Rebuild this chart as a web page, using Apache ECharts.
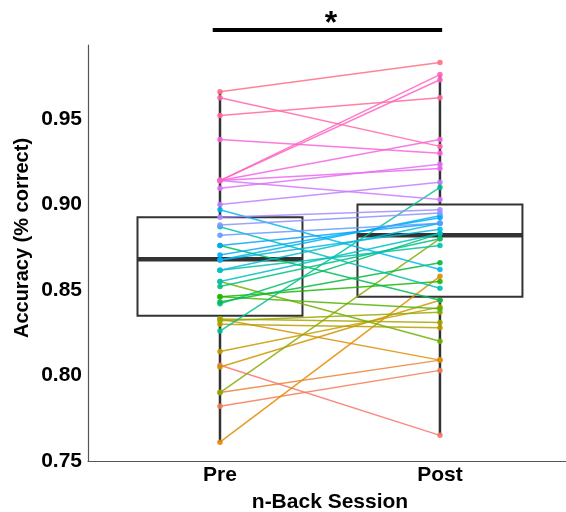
<!DOCTYPE html>
<html>
<head>
<meta charset="utf-8">
<script src="https://cdn.jsdelivr.net/npm/echarts@6/dist/echarts.min.js"></script>
<style>
  html, body { margin: 0; padding: 0; background: #fff; }
  #chart { width: 566px; height: 512px; }
</style>
</head>
<body>
<div id="chart"></div>
<script>
// sessions on the x axis (Pre = 1, Post = 2)
const sessions = ['Pre', 'Post'];
const yTicks = [0.75, 0.80, 0.85, 0.90, 0.95];

// one entry per participant, ordered by their mean accuracy (drives the colour)
const preAcc = [
  0.806, 0.782, 0.790, 0.761, 0.833, 0.805, 0.814, 0.830, 0.833, 0.832,
  0.790, 0.855, 0.846, 0.846, 0.843, 0.876, 0.842, 0.852, 0.826, 0.8615,
  0.887, 0.855, 0.8615, 0.8675, 0.897, 0.8675, 0.8705, 0.876, 0.882, 0.888,
  0.8925, 0.900, 0.914, 0.9095, 0.914, 0.914, 0.938, 0.914, 0.914, 0.9625,
  0.952, 0.966
];
const postAcc = [
  0.765, 0.803, 0.809, 0.858, 0.809, 0.844, 0.840, 0.828, 0.831, 0.837,
  0.880, 0.820, 0.839, 0.855, 0.866, 0.844, 0.883, 0.880, 0.910, 0.876,
  0.851, 0.883, 0.889, 0.8855, 0.862, 0.8935, 0.8923, 0.889, 0.889, 0.895,
  0.897, 0.913, 0.903, 0.9235, 0.921, 0.938, 0.930, 0.973, 0.976, 0.934,
  0.9625, 0.983
];

// boxplot stats: [lower whisker, Q1, median, Q3, upper whisker]
const boxPre = [0.761, 0.835, 0.868, 0.8925, 0.966];
const boxPost = [0.765, 0.846, 0.882, 0.900, 0.976];

// significance bracket
const sigLevel = 1.002;
const sigLabel = '*';

// ggplot2-like hue palette (hcl, c = 100, l = 65)
function hcl2hex(h, c, l) {
  const rad = h * Math.PI / 180;
  const u = c * Math.cos(rad), v = c * Math.sin(rad);
  const Xn = 95.047, Yn = 100, Zn = 108.883;
  const un = 4 * Xn / (Xn + 15 * Yn + 3 * Zn);
  const vn = 9 * Yn / (Xn + 15 * Yn + 3 * Zn);
  const Y = Yn * Math.pow((l + 16) / 116, 3);
  const up = u / (13 * l) + un, vp = v / (13 * l) + vn;
  const X = Y * 9 * up / (4 * vp);
  const Z = Y * (12 - 3 * up - 20 * vp) / (4 * vp);
  const x = X / 100, y = Y / 100, z = Z / 100;
  const lin = [
    3.2404542 * x - 1.5371385 * y - 0.4985314 * z,
    -0.9692660 * x + 1.8760108 * y + 0.0415560 * z,
    0.0556434 * x - 0.2040259 * y + 1.0572252 * z
  ];
  return '#' + lin.map(c0 => {
    let g = c0 <= 0.0031308 ? 12.92 * c0 : 1.055 * Math.pow(c0, 1 / 2.4) - 0.055;
    g = Math.max(0, Math.min(1, g));
    return Math.round(g * 255).toString(16).padStart(2, '0');
  }).join('');
}

const n = preAcc.length;
const colors = preAcc.map((_, i) => hcl2hex(15 + 360 * i / n, 100, 65));

const font = 'Liberation Sans, Arial, sans-serif';
const chart = echarts.init(document.getElementById('chart'));

const pairSeries = preAcc.map((p, i) => ({
  type: 'line',
  data: [[1, p], [2, postAcc[i]]],
  symbol: 'circle',
  symbolSize: 5.5,
  z: 3,
  silent: true,
  lineStyle: { color: colors[i], width: 1.5, opacity: 0.85 },
  itemStyle: { color: colors[i], opacity: 0.9 }
}));

chart.setOption({
  animation: false,
  backgroundColor: '#fff',
  grid: { left: 88, right: 0, top: 45, bottom: 51 },
  xAxis: {
    type: 'value',
    min: 0.4,
    max: 2.573,
    splitLine: { show: false },
    axisTick: { show: false },
    axisLine: { show: true, onZero: false, lineStyle: { color: '#555', width: 1.2 } },
    axisLabel: {
      customValues: [1, 2],
      formatter: v => sessions[Math.round(v) - 1] || '',
      color: '#000',
      fontFamily: font,
      fontWeight: 'bold',
      fontSize: 21,
      margin: 4
    }
  },
  yAxis: {
    type: 'value',
    min: 0.75,
    max: 0.9933,
    splitLine: { show: false },
    axisTick: { show: false },
    axisLine: { show: true, onZero: false, lineStyle: { color: '#555', width: 1.2 } },
    axisLabel: {
      customValues: yTicks,
      formatter: v => v.toFixed(2),
      color: '#000',
      fontFamily: font,
      fontWeight: 'bold',
      fontSize: 21,
      margin: 6
    }
  },
  graphic: [
    {
      type: 'text',
      x: 22, y: 238,
      rotation: Math.PI / 2,
      style: {
        text: 'Accuracy (% correct)',
        font: 'bold 20px ' + font,
        fill: '#000',
        align: 'center',
        verticalAlign: 'middle'
      }
    },
    {
      type: 'text',
      x: 330, y: 502,
      style: {
        text: 'n-Back Session',
        font: 'bold 21px ' + font,
        fill: '#000',
        align: 'center',
        verticalAlign: 'middle'
      }
    },
    {
      type: 'text',
      x: 331, y: 24,
      style: {
        text: sigLabel,
        font: 'bold 32px ' + font,
        fill: '#000',
        align: 'center',
        verticalAlign: 'middle'
      }
    }
  ],
  series: [
    {
      type: 'custom',
      z: 2,
      silent: true,
      encode: { x: 0, y: [1, 2, 3, 4, 5] },
      data: [[1].concat(boxPre), [2].concat(boxPost)],
      renderItem: function (params, api) {
        const x = api.value(0);
        const lo = api.coord([x, api.value(1)]);
        const q1 = api.coord([x, api.value(2)]);
        const med = api.coord([x, api.value(3)]);
        const q3 = api.coord([x, api.value(4)]);
        const hi = api.coord([x, api.value(5)]);
        const half = api.size([0.75, 0])[0] / 2;
        const st = { stroke: '#333', lineWidth: 2.5 };
        return {
          type: 'group',
          children: [
            { type: 'line', shape: { x1: lo[0], y1: lo[1], x2: q1[0], y2: q1[1] }, style: st },
            { type: 'line', shape: { x1: q3[0], y1: q3[1], x2: hi[0], y2: hi[1] }, style: st },
            {
              type: 'rect',
              shape: { x: q1[0] - half, y: q3[1], width: half * 2, height: q1[1] - q3[1] },
              style: { fill: 'none', stroke: '#333', lineWidth: 2 }
            },
            {
              type: 'line',
              shape: { x1: med[0] - half, y1: med[1], x2: med[0] + half, y2: med[1] },
              style: { stroke: '#333', lineWidth: 4.5 }
            }
          ]
        };
      }
    },
    {
      type: 'line',
      data: [[0.967, sigLevel], [2.01, sigLevel]],
      clip: false,
      symbol: 'none',
      silent: true,
      z: 4,
      lineStyle: { color: '#000', width: 4 }
    }
  ].concat(pairSeries)
});
</script>
</body>
</html>
